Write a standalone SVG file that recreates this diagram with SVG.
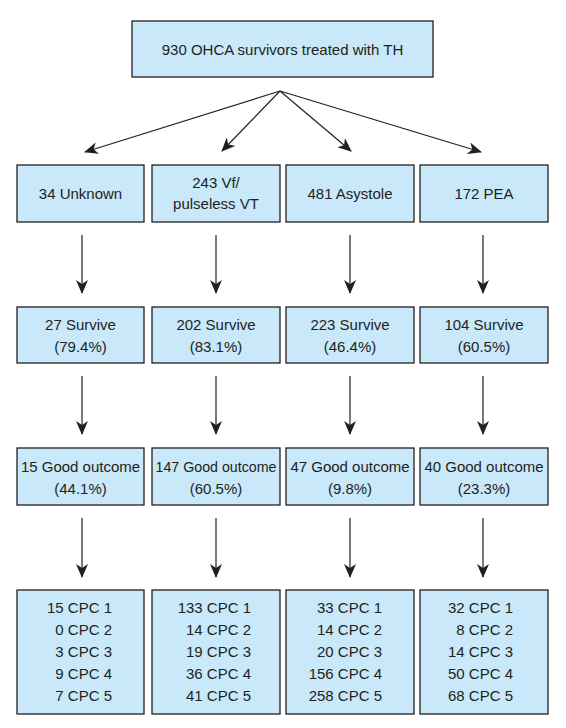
<svg xmlns="http://www.w3.org/2000/svg" width="566" height="728" viewBox="0 0 566 728">
<style>
.box{fill:#c9e8f9;stroke:#231f20;stroke-width:1.3}
text{font-family:"Liberation Sans",Arial,sans-serif;font-size:15px;fill:#231f20}
.c{text-anchor:middle}
.r{text-anchor:end}
.ln{stroke:#231f20;stroke-width:1.2;fill:none;marker-end:url(#ah)}
</style>
<defs>
<marker id="ah" markerUnits="userSpaceOnUse" markerWidth="14" markerHeight="12" viewBox="0 0 14 12" refX="13" refY="6" orient="auto">
<path d="M0,0 L14,6 L0,12 L4,6 z" fill="#231f20"/>
</marker>
</defs>
<rect width="566" height="728" fill="#ffffff"/>
<g id="connectors">
<line class="ln" x1="280" y1="91" x2="85" y2="152"/>
<line class="ln" x1="280" y1="91" x2="222" y2="151"/>
<line class="ln" x1="280" y1="91" x2="351" y2="151"/>
<line class="ln" x1="280" y1="91" x2="481" y2="152"/>
<line class="ln" x1="82" y1="235" x2="82" y2="293"/>
<line class="ln" x1="216" y1="235" x2="216" y2="293"/>
<line class="ln" x1="350" y1="235" x2="350" y2="293"/>
<line class="ln" x1="483" y1="235" x2="483" y2="293"/>
<line class="ln" x1="82" y1="376" x2="82" y2="434"/>
<line class="ln" x1="216" y1="376" x2="216" y2="434"/>
<line class="ln" x1="350" y1="376" x2="350" y2="434"/>
<line class="ln" x1="483" y1="376" x2="483" y2="434"/>
<line class="ln" x1="82" y1="518" x2="82" y2="577"/>
<line class="ln" x1="216" y1="518" x2="216" y2="577"/>
<line class="ln" x1="350" y1="518" x2="350" y2="577"/>
<line class="ln" x1="483" y1="518" x2="483" y2="577"/>
</g>
<g id="top">
<rect class="box" x="132" y="21" width="301" height="56"/>
<text class="c" x="282.5" y="55">930 OHCA survivors treated with TH</text>
</g>
<g id="unknown">
<rect class="box" x="17" y="165" width="127" height="57"/>
<text class="c" x="80.5" y="199">34 Unknown</text>
</g>
<g id="vf">
<rect class="box" x="152" y="165" width="128" height="57"/>
<text class="c" x="216" y="188">243 Vf/</text>
<text class="c" x="216" y="209">pulseless VT</text>
</g>
<g id="asystole">
<rect class="box" x="286" y="165" width="128" height="57"/>
<text class="c" x="350" y="199">481 Asystole</text>
</g>
<g id="pea">
<rect class="box" x="420" y="165" width="128" height="57"/>
<text class="c" x="484" y="199">172 PEA</text>
</g>
<g id="survive1">
<rect class="box" x="17" y="307" width="127" height="56"/>
<text class="c" x="80.5" y="330">27 Survive</text>
<text class="c" x="80.5" y="352">(79.4%)</text>
</g>
<g id="survive2">
<rect class="box" x="152" y="307" width="128" height="56"/>
<text class="c" x="216" y="330">202 Survive</text>
<text class="c" x="216" y="352">(83.1%)</text>
</g>
<g id="survive3">
<rect class="box" x="286" y="307" width="128" height="56"/>
<text class="c" x="350" y="330">223 Survive</text>
<text class="c" x="350" y="352">(46.4%)</text>
</g>
<g id="survive4">
<rect class="box" x="420" y="307" width="128" height="56"/>
<text class="c" x="484" y="330">104 Survive</text>
<text class="c" x="484" y="352">(60.5%)</text>
</g>
<g id="good1">
<rect class="box" x="17" y="448" width="127" height="57"/>
<text class="c" x="80.5" y="472">15 Good outcome</text>
<text class="c" x="80.5" y="494">(44.1%)</text>
</g>
<g id="good2">
<rect class="box" x="152" y="448" width="128" height="57"/>
<text class="c" x="216" y="472" textLength="121" lengthAdjust="spacingAndGlyphs">147 Good outcome</text>
<text class="c" x="216" y="494">(60.5%)</text>
</g>
<g id="good3">
<rect class="box" x="286" y="448" width="128" height="57"/>
<text class="c" x="350" y="472">47 Good outcome</text>
<text class="c" x="350" y="494">(9.8%)</text>
</g>
<g id="good4">
<rect class="box" x="420" y="448" width="128" height="57"/>
<text class="c" x="484" y="472">40 Good outcome</text>
<text class="c" x="484" y="494">(23.3%)</text>
</g>
<g id="cpc1">
<rect class="box" x="17" y="590" width="127" height="124"/>
<text class="r" x="112" y="613">15 CPC 1</text>
<text class="r" x="112" y="635">0 CPC 2</text>
<text class="r" x="112" y="657">3 CPC 3</text>
<text class="r" x="112" y="679">9 CPC 4</text>
<text class="r" x="112" y="701">7 CPC 5</text>
</g>
<g id="cpc2">
<rect class="box" x="152" y="590" width="128" height="124"/>
<text class="r" x="251" y="613">133 CPC 1</text>
<text class="r" x="251" y="635">14 CPC 2</text>
<text class="r" x="251" y="657">19 CPC 3</text>
<text class="r" x="251" y="679">36 CPC 4</text>
<text class="r" x="251" y="701">41 CPC 5</text>
</g>
<g id="cpc3">
<rect class="box" x="286" y="590" width="128" height="124"/>
<text class="r" x="382" y="613">33 CPC 1</text>
<text class="r" x="382" y="635">14 CPC 2</text>
<text class="r" x="382" y="657">20 CPC 3</text>
<text class="r" x="382" y="679">156 CPC 4</text>
<text class="r" x="382" y="701">258 CPC 5</text>
</g>
<g id="cpc4">
<rect class="box" x="420" y="590" width="128" height="124"/>
<text class="r" x="513" y="613">32 CPC 1</text>
<text class="r" x="513" y="635">8 CPC 2</text>
<text class="r" x="513" y="657">14 CPC 3</text>
<text class="r" x="513" y="679">50 CPC 4</text>
<text class="r" x="513" y="701">68 CPC 5</text>
</g>
</svg>
